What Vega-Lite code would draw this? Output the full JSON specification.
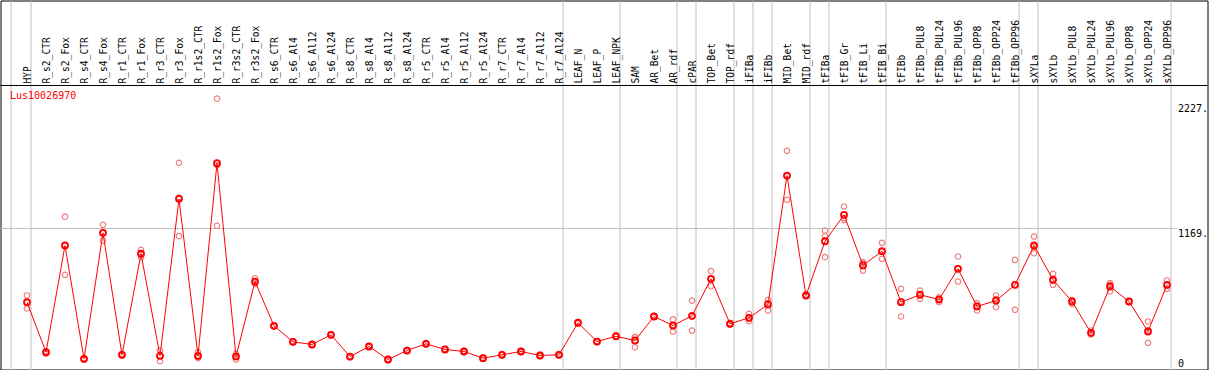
{
  "$schema": "https://vega.github.io/schema/vega-lite/v6.json",
  "width": 1207,
  "height": 369,
  "autosize": {"type": "none"},
  "padding": {"left": 0.5, "top": 0.5, "right": 1.5, "bottom": 0.5},
  "background": "white",
  "config": {"view": {"stroke": "black", "strokeWidth": 1}, "font": "DejaVu Sans Mono"},
  "datasets": {
    "means": [
      {"sample": "HYP", "value": 545}, {"sample": "R_s2_CTR", "value": 122}, {"sample": "R_s2_Fox", "value": 1025},
      {"sample": "R_s4_CTR", "value": 66}, {"sample": "R_s4_Fox", "value": 1132}, {"sample": "R_r1_CTR", "value": 100},
      {"sample": "R_r1_Fox", "value": 955}, {"sample": "R_r3_CTR", "value": 91}, {"sample": "R_r3_Fox", "value": 1420},
      {"sample": "R_r1s2_CTR", "value": 91}, {"sample": "R_r1s2_Fox", "value": 1722}, {"sample": "R_r3s2_CTR", "value": 85},
      {"sample": "R_r3s2_Fox", "value": 720}, {"sample": "R_s6_CTR", "value": 345}, {"sample": "R_s6_Al4", "value": 210},
      {"sample": "R_s6_Al12", "value": 187}, {"sample": "R_s6_Al24", "value": 269}, {"sample": "R_s8_CTR", "value": 85},
      {"sample": "R_s8_Al4", "value": 170}, {"sample": "R_s8_Al12", "value": 60}, {"sample": "R_s8_Al24", "value": 136},
      {"sample": "R_r5_CTR", "value": 193}, {"sample": "R_r5_Al4", "value": 145}, {"sample": "R_r5_Al12", "value": 128},
      {"sample": "R_r5_Al24", "value": 71}, {"sample": "R_r7_CTR", "value": 100}, {"sample": "R_r7_Al4", "value": 128},
      {"sample": "R_r7_Al12", "value": 94}, {"sample": "R_r7_Al24", "value": 100}, {"sample": "LEAF_N", "value": 371},
      {"sample": "LEAF_P", "value": 212}, {"sample": "LEAF_NPK", "value": 257}, {"sample": "SAM", "value": 221},
      {"sample": "AR_Bet", "value": 424}, {"sample": "AR_rdf", "value": 348}, {"sample": "cPAR", "value": 430},
      {"sample": "TOP_Bet", "value": 743}, {"sample": "TOP_rdf", "value": 362}, {"sample": "iFIBa", "value": 413},
      {"sample": "iFIBb", "value": 526}, {"sample": "MID_Bet", "value": 1617}, {"sample": "MID_rdf", "value": 602},
      {"sample": "tFIBa", "value": 1061}, {"sample": "tFIB_Gr", "value": 1285}, {"sample": "tFIB_Li", "value": 856},
      {"sample": "tFIB_Bi", "value": 977}, {"sample": "tFIBb", "value": 545}, {"sample": "tFIBb_PUL8", "value": 608},
      {"sample": "tFIBb_PUL24", "value": 568}, {"sample": "tFIBb_PUL96", "value": 828}, {"sample": "tFIBb_OPP8", "value": 509},
      {"sample": "tFIBb_OPP24", "value": 559}, {"sample": "tFIBb_OPP96", "value": 692}, {"sample": "sXYLa", "value": 1025},
      {"sample": "sXYLb", "value": 735}, {"sample": "sXYLb_PUL8", "value": 551}, {"sample": "sXYLb_PUL24", "value": 286},
      {"sample": "sXYLb_PUL96", "value": 678}, {"sample": "sXYLb_OPP8", "value": 551}, {"sample": "sXYLb_OPP24", "value": 297},
      {"sample": "sXYLb_OPP96", "value": 692}
    ],
    "reps": [
      {"sample": "HYP", "value": 602}, {"sample": "HYP", "value": 541}, {"sample": "HYP", "value": 492},
      {"sample": "R_s2_CTR", "value": 130}, {"sample": "R_s2_CTR", "value": 110}, {"sample": "R_s2_CTR", "value": 126},
      {"sample": "R_s2_Fox", "value": 1269}, {"sample": "R_s2_Fox", "value": 1029}, {"sample": "R_s2_Fox", "value": 777},
      {"sample": "R_s4_CTR", "value": 70}, {"sample": "R_s4_CTR", "value": 60}, {"sample": "R_s4_CTR", "value": 68},
      {"sample": "R_s4_Fox", "value": 1200}, {"sample": "R_s4_Fox", "value": 1129}, {"sample": "R_s4_Fox", "value": 1067},
      {"sample": "R_r1_CTR", "value": 108}, {"sample": "R_r1_CTR", "value": 95}, {"sample": "R_r1_CTR", "value": 97},
      {"sample": "R_r1_Fox", "value": 988}, {"sample": "R_r1_Fox", "value": 951}, {"sample": "R_r1_Fox", "value": 926},
      {"sample": "R_r3_CTR", "value": 136}, {"sample": "R_r3_CTR", "value": 91}, {"sample": "R_r3_CTR", "value": 46},
      {"sample": "R_r3_Fox", "value": 1725}, {"sample": "R_r3_Fox", "value": 1431}, {"sample": "R_r3_Fox", "value": 1104},
      {"sample": "R_r1s2_CTR", "value": 122}, {"sample": "R_r1s2_CTR", "value": 80}, {"sample": "R_r1s2_CTR", "value": 71},
      {"sample": "R_r1s2_Fox", "value": 2268}, {"sample": "R_r1s2_Fox", "value": 1706}, {"sample": "R_r1s2_Fox", "value": 1192},
      {"sample": "R_r3s2_CTR", "value": 108}, {"sample": "R_r3s2_CTR", "value": 89}, {"sample": "R_r3s2_CTR", "value": 58},
      {"sample": "R_r3s2_Fox", "value": 748}, {"sample": "R_r3s2_Fox", "value": 712}, {"sample": "R_r3s2_Fox", "value": 700},
      {"sample": "R_s6_CTR", "value": 350}, {"sample": "R_s6_CTR", "value": 340}, {"sample": "R_s6_CTR", "value": 345},
      {"sample": "R_s6_Al4", "value": 215}, {"sample": "R_s6_Al4", "value": 205}, {"sample": "R_s6_Al4", "value": 210},
      {"sample": "R_s6_Al12", "value": 192}, {"sample": "R_s6_Al12", "value": 182}, {"sample": "R_s6_Al12", "value": 187},
      {"sample": "R_s6_Al24", "value": 274}, {"sample": "R_s6_Al24", "value": 264}, {"sample": "R_s6_Al24", "value": 269},
      {"sample": "R_s8_CTR", "value": 90}, {"sample": "R_s8_CTR", "value": 80}, {"sample": "R_s8_CTR", "value": 85},
      {"sample": "R_s8_Al4", "value": 175}, {"sample": "R_s8_Al4", "value": 165}, {"sample": "R_s8_Al4", "value": 170},
      {"sample": "R_s8_Al12", "value": 65}, {"sample": "R_s8_Al12", "value": 55}, {"sample": "R_s8_Al12", "value": 60},
      {"sample": "R_s8_Al24", "value": 141}, {"sample": "R_s8_Al24", "value": 131}, {"sample": "R_s8_Al24", "value": 136},
      {"sample": "R_r5_CTR", "value": 198}, {"sample": "R_r5_CTR", "value": 188}, {"sample": "R_r5_CTR", "value": 193},
      {"sample": "R_r5_Al4", "value": 150}, {"sample": "R_r5_Al4", "value": 140}, {"sample": "R_r5_Al4", "value": 145},
      {"sample": "R_r5_Al12", "value": 133}, {"sample": "R_r5_Al12", "value": 123}, {"sample": "R_r5_Al12", "value": 128},
      {"sample": "R_r5_Al24", "value": 76}, {"sample": "R_r5_Al24", "value": 66}, {"sample": "R_r5_Al24", "value": 71},
      {"sample": "R_r7_CTR", "value": 105}, {"sample": "R_r7_CTR", "value": 95}, {"sample": "R_r7_CTR", "value": 100},
      {"sample": "R_r7_Al4", "value": 133}, {"sample": "R_r7_Al4", "value": 123}, {"sample": "R_r7_Al4", "value": 128},
      {"sample": "R_r7_Al12", "value": 99}, {"sample": "R_r7_Al12", "value": 89}, {"sample": "R_r7_Al12", "value": 94},
      {"sample": "R_r7_Al24", "value": 105}, {"sample": "R_r7_Al24", "value": 95}, {"sample": "R_r7_Al24", "value": 100},
      {"sample": "LEAF_N", "value": 376}, {"sample": "LEAF_N", "value": 366}, {"sample": "LEAF_N", "value": 371},
      {"sample": "LEAF_P", "value": 217}, {"sample": "LEAF_P", "value": 207}, {"sample": "LEAF_P", "value": 212},
      {"sample": "LEAF_NPK", "value": 262}, {"sample": "LEAF_NPK", "value": 252}, {"sample": "LEAF_NPK", "value": 257},
      {"sample": "SAM", "value": 249}, {"sample": "SAM", "value": 250}, {"sample": "SAM", "value": 164},
      {"sample": "AR_Bet", "value": 430}, {"sample": "AR_Bet", "value": 420}, {"sample": "AR_Bet", "value": 422},
      {"sample": "AR_rdf", "value": 399}, {"sample": "AR_rdf", "value": 348}, {"sample": "AR_rdf", "value": 297},
      {"sample": "cPAR", "value": 559}, {"sample": "cPAR", "value": 426}, {"sample": "cPAR", "value": 305},
      {"sample": "TOP_Bet", "value": 808}, {"sample": "TOP_Bet", "value": 741}, {"sample": "TOP_Bet", "value": 680},
      {"sample": "TOP_rdf", "value": 370}, {"sample": "TOP_rdf", "value": 358}, {"sample": "TOP_rdf", "value": 358},
      {"sample": "iFIBa", "value": 447}, {"sample": "iFIBa", "value": 408}, {"sample": "iFIBa", "value": 384},
      {"sample": "iFIBb", "value": 565}, {"sample": "iFIBb", "value": 538}, {"sample": "iFIBb", "value": 475},
      {"sample": "MID_Bet", "value": 1826}, {"sample": "MID_Bet", "value": 1613}, {"sample": "MID_Bet", "value": 1412},
      {"sample": "MID_rdf", "value": 610}, {"sample": "MID_rdf", "value": 598}, {"sample": "MID_rdf", "value": 598},
      {"sample": "tFIBa", "value": 1152}, {"sample": "tFIBa", "value": 1105}, {"sample": "tFIBa", "value": 926},
      {"sample": "tFIB_Gr", "value": 1355}, {"sample": "tFIB_Gr", "value": 1258}, {"sample": "tFIB_Gr", "value": 1242},
      {"sample": "tFIB_Li", "value": 884}, {"sample": "tFIB_Li", "value": 871}, {"sample": "tFIB_Li", "value": 813},
      {"sample": "tFIB_Bi", "value": 1048}, {"sample": "tFIB_Bi", "value": 971}, {"sample": "tFIB_Bi", "value": 912},
      {"sample": "tFIBb", "value": 658}, {"sample": "tFIBb", "value": 553}, {"sample": "tFIBb", "value": 424},
      {"sample": "tFIBb_PUL8", "value": 644}, {"sample": "tFIBb_PUL8", "value": 606}, {"sample": "tFIBb_PUL8", "value": 574},
      {"sample": "tFIBb_PUL24", "value": 587}, {"sample": "tFIBb_PUL24", "value": 572}, {"sample": "tFIBb_PUL24", "value": 545},
      {"sample": "tFIBb_PUL96", "value": 932}, {"sample": "tFIBb_PUL96", "value": 832}, {"sample": "tFIBb_PUL96", "value": 720},
      {"sample": "tFIBb_OPP8", "value": 537}, {"sample": "tFIBb_OPP8", "value": 515}, {"sample": "tFIBb_OPP8", "value": 475},
      {"sample": "tFIBb_OPP24", "value": 602}, {"sample": "tFIBb_OPP24", "value": 572}, {"sample": "tFIBb_OPP24", "value": 503},
      {"sample": "tFIBb_OPP96", "value": 904}, {"sample": "tFIBb_OPP96", "value": 691}, {"sample": "tFIBb_OPP96", "value": 481},
      {"sample": "sXYLa", "value": 1101}, {"sample": "sXYLa", "value": 1014}, {"sample": "sXYLa", "value": 960},
      {"sample": "sXYLb", "value": 785}, {"sample": "sXYLb", "value": 728}, {"sample": "sXYLb", "value": 692},
      {"sample": "sXYLb_PUL8", "value": 531}, {"sample": "sXYLb_PUL8", "value": 560}, {"sample": "sXYLb_PUL8", "value": 562},
      {"sample": "sXYLb_PUL24", "value": 305}, {"sample": "sXYLb_PUL24", "value": 281}, {"sample": "sXYLb_PUL24", "value": 272},
      {"sample": "sXYLb_PUL96", "value": 706}, {"sample": "sXYLb_PUL96", "value": 692}, {"sample": "sXYLb_PUL96", "value": 636},
      {"sample": "sXYLb_OPP8", "value": 555}, {"sample": "sXYLb_OPP8", "value": 548}, {"sample": "sXYLb_OPP8", "value": 550},
      {"sample": "sXYLb_OPP24", "value": 382}, {"sample": "sXYLb_OPP24", "value": 308}, {"sample": "sXYLb_OPP24", "value": 201},
      {"sample": "sXYLb_OPP96", "value": 729}, {"sample": "sXYLb_OPP96", "value": 689}, {"sample": "sXYLb_OPP96", "value": 658}
    ]
  },
  "resolve": {"axis": {"x": "independent", "y": "independent"}},
  "layer": [
    {
      "data": {"values": [{"level": 1169}]},
      "mark": {"type": "rule", "color": "#c0c0c0", "strokeWidth": 1, "xOffset": -26.5, "x2Offset": 10.5},
      "encoding": {
        "x": {
          "datum": "HYP",
          "scale": {
            "type": "point",
            "padding": 0,
            "range": [26.5, 1166.5],
            "domain": ["HYP", "R_s2_CTR", "R_s2_Fox", "R_s4_CTR", "R_s4_Fox", "R_r1_CTR", "R_r1_Fox", "R_r3_CTR", "R_r3_Fox", "R_r1s2_CTR", "R_r1s2_Fox", "R_r3s2_CTR", "R_r3s2_Fox", "R_s6_CTR", "R_s6_Al4", "R_s6_Al12", "R_s6_Al24", "R_s8_CTR", "R_s8_Al4", "R_s8_Al12", "R_s8_Al24", "R_r5_CTR", "R_r5_Al4", "R_r5_Al12", "R_r5_Al24", "R_r7_CTR", "R_r7_Al4", "R_r7_Al12", "R_r7_Al24", "LEAF_N", "LEAF_P", "LEAF_NPK", "SAM", "AR_Bet", "AR_rdf", "cPAR", "TOP_Bet", "TOP_rdf", "iFIBa", "iFIBb", "MID_Bet", "MID_rdf", "tFIBa", "tFIB_Gr", "tFIB_Li", "tFIB_Bi", "tFIBb", "tFIBb_PUL8", "tFIBb_PUL24", "tFIBb_PUL96", "tFIBb_OPP8", "tFIBb_OPP24", "tFIBb_OPP96", "sXYLa", "sXYLb", "sXYLb_PUL8", "sXYLb_PUL24", "sXYLb_PUL96", "sXYLb_OPP8", "sXYLb_OPP24", "sXYLb_OPP96"]
          },
          "axis": null
        },
        "x2": {"datum": "sXYLb_OPP96"},
        "y": {
          "field": "level", "type": "quantitative",
          "scale": {"domain": [-24.5, 3098.6], "nice": false, "zero": false},
          "axis": null
        }
      }
    },
    {
      "data": {"values": [{"divider": 2379.2}]},
      "mark": {"type": "rule", "color": "black", "strokeWidth": 1},
      "encoding": {
        "y": {"field": "divider", "type": "quantitative", "axis": null}
      }
    },
    {
      "data": {"name": "reps"},
      "mark": {"type": "point", "shape": "circle", "filled": false, "size": 30, "stroke": "#f08080", "strokeWidth": 1.2, "opacity": 1},
      "encoding": {
        "x": {
          "field": "sample", "type": "nominal",
          "axis": {
            "orient": "top", "offset": -84.5, "title": null, "ticks": false,
            "domain": false, "grid": false,
            "labelAngle": 270, "labelAlign": "left", "labelBaseline": "middle", "labelPadding": 2,
            "labelFont": "DejaVu Sans Mono", "labelFontSize": 9.6, "labelColor": "black",
            "labelOverlap": false, "labelBound": false, "zindex": 1
          }
        },
        "y": {"field": "value", "type": "quantitative", "axis": null}
      }
    },
    {
      "data": {"name": "means"},
      "mark": {"type": "line", "color": "#ff0000", "strokeWidth": 1},
      "encoding": {
        "x": {
          "field": "sample", "type": "nominal",
          "axis": {
            "orient": "top", "offset": -84.5, "title": null,
            "values": ["HYP", "R_r7_Al24", "LEAF_NPK", "AR_rdf", "cPAR", "TOP_rdf", "iFIBa", "iFIBb", "MID_rdf", "tFIBa", "tFIB_Bi", "tFIBb_OPP96", "sXYLa", "sXYLb_OPP96"],
            "labels": false, "ticks": false, "domain": false,
            "grid": true, "gridColor": "#c0c0c0", "gridWidth": 1, "tickOffset": 3, "zindex": 0
          }
        },
        "y": {"field": "value", "type": "quantitative", "axis": null}
      }
    },
    {
      "data": {"name": "means"},
      "mark": {"type": "point", "shape": "circle", "filled": false, "size": 36, "stroke": "#ff0000", "strokeWidth": 1.8, "opacity": 1},
      "encoding": {
        "x": {
          "field": "sample", "type": "nominal",
          "axis": {
            "orient": "top", "offset": -84.5, "title": null,
            "values": ["HYP"],
            "labels": false, "ticks": false, "domain": false,
            "grid": true, "gridColor": "#c0c0c0", "gridWidth": 1, "tickOffset": -17, "zindex": 0
          }
        },
        "y": {
          "field": "value", "type": "quantitative",
          "axis": {
            "orient": "right", "offset": -30, "title": null, "values": [0, 1169, 2227],
            "ticks": false, "domain": false, "grid": false,
            "labelExpr": "datum.value === 0 ? '0' : datum.value + '.'",
            "labelFont": "DejaVu Sans Mono", "labelFontSize": 10, "labelColor": "black",
            "labelPadding": 0, "labelAlign": "left",
            "labelBaseline": {"condition": {"test": "datum.value === 0", "value": "alphabetic"}, "value": "top"},
            "labelOverlap": false, "labelBound": false, "labelFlush": false
          }
        }
      }
    },
    {
      "data": {"values": [{"gene": "Lus10026970"}]},
      "mark": {"type": "text", "align": "left", "baseline": "top", "dx": -17, "font": "DejaVu Sans Mono", "fontSize": 10, "color": "#ff0000"},
      "encoding": {
        "x": {"datum": "HYP", "axis": null},
        "y": {"datum": 2330, "type": "quantitative", "axis": null},
        "text": {"field": "gene"}
      }
    }
  ]
}
